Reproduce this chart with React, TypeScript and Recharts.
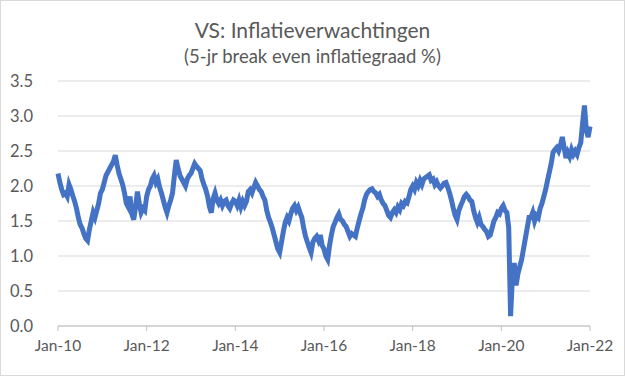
import React from "react"
import { LineChart, Line, XAxis, YAxis, CartesianGrid } from "recharts"

// half-monthly readings, 24 per year
const years = [2010, 2011, 2012, 2013, 2014, 2015, 2016, 2017, 2018, 2019, 2020, 2021]

const v2010 = [2.18, 2.05, 1.95, 1.88, 1.9, 1.85, 2.02, 1.95, 1.86, 1.78, 1.68, 1.55, 1.45, 1.4, 1.32, 1.25, 1.22, 1.38, 1.5, 1.62, 1.55, 1.65, 1.75, 1.9]
const v2011 = [1.95, 2.05, 2.15, 2.2, 2.25, 2.3, 2.35, 2.44, 2.3, 2.18, 2.1, 2.02, 1.9, 1.75, 1.7, 1.85, 1.6, 1.52, 1.7, 1.92, 1.75, 1.62, 1.68, 1.65]
const v2012 = [1.85, 1.95, 2.0, 2.1, 2.15, 2.05, 2.1, 1.98, 1.9, 1.8, 1.7, 1.62, 1.72, 1.8, 1.9, 2.15, 2.37, 2.25, 2.15, 2.1, 2.05, 2.0, 2.1, 2.15]
const v2013 = [2.18, 2.25, 2.32, 2.28, 2.25, 2.22, 2.1, 2.02, 1.95, 1.85, 1.7, 1.62, 1.82, 1.9, 1.8, 1.75, 1.8, 1.72, 1.78, 1.8, 1.72, 1.68, 1.75, 1.8]
const v2014 = [1.78, 1.72, 1.8, 1.7, 1.78, 1.72, 1.78, 1.92, 1.95, 1.9, 1.98, 2.05, 2.0, 1.95, 1.92, 1.85, 1.8, 1.65, 1.55, 1.48, 1.4, 1.3, 1.2, 1.1]
const v2015 = [1.05, 1.2, 1.35, 1.48, 1.55, 1.5, 1.6, 1.68, 1.72, 1.65, 1.7, 1.62, 1.55, 1.4, 1.28, 1.2, 1.12, 1.05, 1.2, 1.25, 1.28, 1.22, 1.3, 1.15]
const v2016 = [1.1, 1.0, 0.95, 1.15, 1.3, 1.42, 1.48, 1.55, 1.6, 1.52, 1.5, 1.45, 1.42, 1.35, 1.28, 1.32, 1.3, 1.28, 1.4, 1.5, 1.6, 1.68, 1.8, 1.88]
const v2017 = [1.92, 1.95, 1.96, 1.92, 1.9, 1.85, 1.88, 1.8, 1.75, 1.72, 1.65, 1.58, 1.55, 1.62, 1.66, 1.62, 1.7, 1.66, 1.75, 1.72, 1.78, 1.76, 1.85, 1.95]
const v2018 = [2.0, 1.95, 2.05, 2.0, 2.08, 2.02, 2.1, 2.12, 2.14, 2.16, 2.08, 2.1, 2.02, 2.06, 2.0, 1.97, 2.0, 2.04, 2.05, 1.98, 1.9, 1.8, 1.68, 1.58]
const v2019 = [1.52, 1.65, 1.72, 1.78, 1.85, 1.88, 1.85, 1.8, 1.78, 1.65, 1.55, 1.48, 1.55, 1.45, 1.42, 1.38, 1.35, 1.28, 1.3, 1.4, 1.5, 1.55, 1.62, 1.6]
const v2020 = [1.68, 1.72, 1.65, 1.62, 1.4, 0.14, 0.7, 0.9, 0.58, 0.75, 0.85, 0.95, 1.1, 1.25, 1.4, 1.55, 1.55, 1.62, 1.5, 1.58, 1.55, 1.68, 1.75, 1.85]
const v2021 = [1.95, 2.08, 2.2, 2.32, 2.48, 2.52, 2.55, 2.5, 2.58, 2.7, 2.55, 2.4, 2.48, 2.42, 2.52, 2.45, 2.5, 2.45, 2.55, 2.62, 2.9, 3.15, 2.8, 2.7]
const v2022 = [2.85]

const series = [v2010, v2011, v2012, v2013, v2014, v2015, v2016, v2017, v2018, v2019, v2020, v2021]

const xTicks = [2010, 2012, 2014, 2016, 2018, 2020, 2022]
const yTicks = [0, 0.5, 1, 1.5, 2, 2.5, 3, 3.5]

const data: { t: number; v: number }[] = []
years.forEach((y, i) => {
  series[i].forEach((v, j) => data.push({ t: y + j / 24, v }))
})
v2022.forEach((v, j) => data.push({ t: 2022 + j / 24, v }))

const font = "Lato, 'Open Sans', sans-serif"

export default function App() {
  return (
    <div
      style={{
        position: "fixed",
        left: 0,
        top: 0,
        width: 625,
        height: 376,
        boxSizing: "border-box",
        border: "1px solid #d9d9d9",
        background: "#fff",
        fontFamily: font,
      }}
    >
      <div style={{ position: "absolute", top: 16, left: 0, width: 623, textAlign: "center", fontSize: 21, lineHeight: "25px", color: "#595959" }}>
        VS: Inflatieverwachtingen
      </div>
      <div style={{ position: "absolute", top: 44, left: 0, width: 623, textAlign: "center", fontSize: 18.5, lineHeight: "22px", color: "#595959" }}>
        (5-jr break even inflatiegraad %)
      </div>
      <div style={{ position: "absolute", left: -1, top: -1 }}>
        <LineChart width={625} height={376} data={data} margin={{ top: 81, right: 35, bottom: 20, left: 0 }}>
          <CartesianGrid vertical={false} stroke="#d9d9d9" strokeWidth={1} />
          <XAxis
            dataKey="t"
            type="number"
            domain={[2010, 2022]}
            ticks={xTicks}
            tickFormatter={(t: number) => "Jan-" + String(t).slice(2)}
            stroke="#bfbfbf"
            tickSize={5}
            tickMargin={9}
            height={30}
            tick={{ fill: "#595959", fontSize: 15.5, fontFamily: font }}
          />
          <YAxis
            type="number"
            domain={[0, 3.5]}
            ticks={yTicks}
            tickFormatter={(v: number) => v.toFixed(1)}
            axisLine={false}
            tickLine={false}
            width={58}
            tickMargin={19}
            tick={{ fill: "#595959", fontSize: 16.5, fontFamily: font }}
          />
          <Line dataKey="v" stroke="#4472c4" strokeWidth={5} dot={false} isAnimationActive={false} type="linear" />
        </LineChart>
      </div>
    </div>
  )
}
